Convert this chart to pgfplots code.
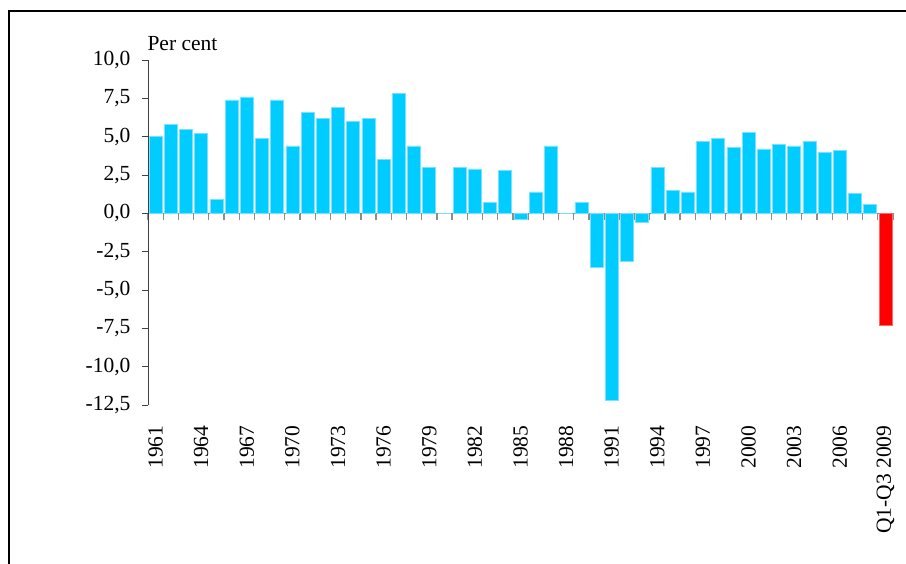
\documentclass[border=0pt]{standalone}
\usepackage{pgfplots}
\pgfplotsset{compat=1.18}
\usepackage{pgfplotstable}
\usepackage{fontspec}
\setmainfont{Liberation Serif}
\definecolor{barblue}{RGB}{0,204,255}
\definecolor{baredge}{RGB}{120,225,255}
\definecolor{barred}{RGB}{255,0,0}
\definecolor{axisgray}{RGB}{64,64,64}
\definecolor{zerogray}{RGB}{140,140,140}

\pgfplotstableread{
x y
0 5.0
1 5.8
2 5.5
3 5.2
4 0.9
5 7.4
6 7.6
7 4.9
8 7.4
9 4.4
10 6.6
11 6.2
12 6.9
13 6.0
14 6.2
15 3.5
16 7.8
17 4.4
18 3.0
19 0.0
20 3.0
21 2.9
22 0.7
23 2.8
24 -0.4
25 1.4
26 4.4
27 0.0
28 0.7
29 -3.5
30 -12.2
31 -3.1
32 -0.6
33 3.0
34 1.5
35 1.4
36 4.7
37 4.9
38 4.3
39 5.3
40 4.2
41 4.5
42 4.4
43 4.7
44 4.0
45 4.1
46 1.3
47 0.6
}\growth

\begin{document}
\begin{tikzpicture}[font=\fontsize{21.5}{25}\selectfont]
\useasboundingbox (0pt,0pt) rectangle (906pt,-564pt);
\draw[line width=2.4pt] (9pt,-580pt) -- (9pt,-10.8pt) -- (920pt,-10.8pt);

% zero line with tick marks at the bar boundaries
\begin{axis}[
  at={(148pt,-213.33pt)}, anchor=south west,
  scale only axis, width=745pt, height=153.33pt,
  xmin=-0.5, xmax=48.5, ymin=0, ymax=10,
  axis x line*=bottom, axis y line=none,
  x axis line style={draw=zerogray, line width=0.8pt, -},
  xtick={-0.5,0.5,...,48.5},
  xticklabel=\empty,
  tick align=outside,
  major tick length=7pt,
  xtick style={draw=zerogray, line width=1.3pt},
]
\addplot[draw=none, forget plot] coordinates {(0,0)};
\end{axis}

\begin{axis}[
  at={(148pt,-405pt)}, anchor=south west,
  scale only axis, width=745pt, height=345pt,
  xmin=-0.5, xmax=48.5, ymin=-12.5, ymax=10,
  axis x line*=bottom, axis y line*=left,
  x axis line style={draw=none},
  y axis line style={draw=axisgray, line width=0.8pt, -},
  ytick={-12.5,-10,-7.5,-5,-2.5,0,2.5,5,7.5,10},
  ytick style={draw=axisgray, line width=0.8pt},
  tick align=outside,
  major tick length=6pt,
  xtick={0,3,...,45,48},
  xticklabels={1961,1964,1967,1970,1973,1976,1979,1982,1985,1988,1991,1994,1997,2000,2003,2006,Q1-Q3 2009},
  xtick style={draw=none},
  x tick label style={rotate=90, anchor=east},
  xticklabel shift=11pt,
  yticklabel shift=8pt,
  ticklabel style={font=\fontsize{21.5}{25}\selectfont},
  yticklabel style={/pgf/number format/.cd, fixed, fixed zerofill, precision=1, use comma, assume math mode=true},
  ybar, bar shift=0pt, bar width=13pt,
  clip=false,
]
\addplot[fill=barblue, draw=baredge, line width=0.6pt] table[x=x,y=y] {\growth};
\addplot[fill=barred, draw=barred!60, line width=0.6pt] coordinates {(48,-7.3)};
\end{axis}

\node[anchor=base west] at (144pt,-51pt) {Per cent};
\end{tikzpicture}
\end{document}
